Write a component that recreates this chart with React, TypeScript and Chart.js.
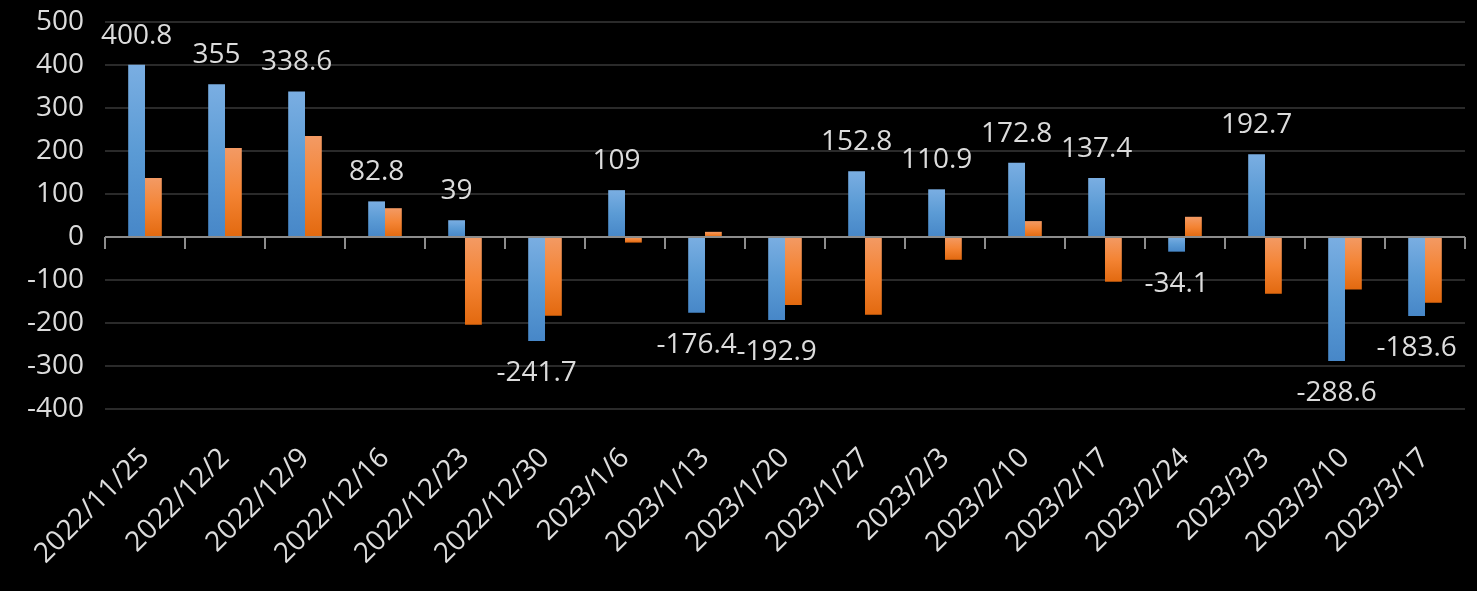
import React, { useEffect, useRef } from "react";
import { Chart, registerables } from "chart.js";

Chart.register(...registerables);

const categories = [
  "2022/11/25", "2022/12/2", "2022/12/9", "2022/12/16", "2022/12/23", "2022/12/30",
  "2023/1/6", "2023/1/13", "2023/1/20", "2023/1/27", "2023/2/3", "2023/2/10",
  "2023/2/17", "2023/2/24", "2023/3/3", "2023/3/10", "2023/3/17",
];

const blueValues = [
  400.8, 355, 338.6, 82.8, 39, -241.7, 109, -176.4, -192.9, 152.8, 110.9, 172.8,
  137.4, -34.1, 192.7, -288.6, -183.6,
];

const orangeValues = [
  137, 207, 235, 67, -204, -183, -13, 12, -158, -181, -53, 37, -104, 47, -132, -122, -153,
];

const yMin = -400;
const yMax = 500;
const yStep = 100;

const FONT_FAMILY = "'Open Sans', 'Noto Sans', 'DejaVu Sans', sans-serif";
const TEXT_COLOR = "#dcdcdc";
const BLUE_STOPS = ["#7aaee2", "#5b9bd5", "#4787c8"];
const ORANGE_STOPS = ["#f39a64", "#f48434", "#e2690f"];

function barGradient(stops: string[]) {
  return (ctx: any) => {
    const chart = ctx.chart;
    const yScale = chart.scales && chart.scales.y;
    if (!chart.chartArea || !yScale || ctx.type !== "data") return stops[1];
    const v = ctx.raw as number;
    const p0 = yScale.getPixelForValue(0);
    const p1 = yScale.getPixelForValue(v);
    const top = Math.min(p0, p1);
    const bottom = Math.max(p0, p1);
    if (bottom - top < 1) return stops[1];
    const g = chart.ctx.createLinearGradient(0, top, 0, bottom);
    g.addColorStop(0, stops[0]);
    g.addColorStop(0.5, stops[1]);
    g.addColorStop(1, stops[2]);
    return g;
  };
}

const overlayPlugin = {
  id: "overlayPlugin",
  afterDatasetsDraw(chart: any) {
    const { ctx, chartArea, scales } = chart;
    const xs = scales.x;
    const ys = scales.y;
    const y0 = ys.getPixelForValue(0);
    const step = xs.getPixelForValue(1) - xs.getPixelForValue(0);
    const first = xs.getPixelForValue(0) - step / 2;
    ctx.save();
    ctx.strokeStyle = "#8c8c8c";
    ctx.lineWidth = 2;
    ctx.beginPath();
    ctx.moveTo(chartArea.left, y0);
    ctx.lineTo(chartArea.right, y0);
    for (let i = 0; i <= categories.length; i++) {
      const px = Math.round(first + i * step);
      ctx.moveTo(px, y0);
      ctx.lineTo(px, y0 + 12);
    }
    ctx.stroke();

    // data labels for the blue series
    const meta = chart.getDatasetMeta(0);
    ctx.font = `28px ${FONT_FAMILY}`;
    ctx.fillStyle = TEXT_COLOR;
    ctx.textAlign = "center";
    ctx.textBaseline = "alphabetic";
    meta.data.forEach((el: any, i: number) => {
      const v = blueValues[i];
      const text = String(v);
      const w = ctx.measureText(text).width;
      let cx = el.x;
      if (cx + w / 2 > chartArea.right) cx = chartArea.right - w / 2;
      const ty = v >= 0 ? el.y - 21 : el.y + 40;
      ctx.fillText(text, cx, ty);
    });
    ctx.restore();
  },
};

export default function App() {
  const canvasRef = useRef<HTMLCanvasElement | null>(null);

  useEffect(() => {
    document.body.style.margin = "0";
    document.body.style.background = "#000";
    const canvas = canvasRef.current;
    if (!canvas) return;
    const chart = new Chart(canvas, {
      type: "bar",
      data: {
        labels: categories,
        datasets: [
          {
            label: "A",
            data: blueValues,
            backgroundColor: barGradient(BLUE_STOPS) as any,
            borderWidth: 0,
            categoryPercentage: 0.42,
            barPercentage: 1,
          },
          {
            label: "B",
            data: orangeValues,
            backgroundColor: barGradient(ORANGE_STOPS) as any,
            borderWidth: 0,
            categoryPercentage: 0.42,
            barPercentage: 1,
          },
        ],
      },
      options: {
        animation: false,
        responsive: true,
        maintainAspectRatio: false,
        devicePixelRatio: 1,
        layout: { autoPadding: false, padding: { left: 0, right: 12, top: 22, bottom: 0 } },
        plugins: {
          legend: { display: false },
          title: { display: false },
          tooltip: { enabled: false },
        },
        scales: {
          x: {
            grid: { display: false },
            border: { display: false },
            ticks: {
              autoSkip: false,
              minRotation: 45,
              maxRotation: 45,
              color: TEXT_COLOR,
              padding: 36,
              font: { family: FONT_FAMILY, size: 28, lineHeight: 0.05 },
            },
            afterFit(scale: any) {
              scale.height = 182;
              scale.paddingLeft = 0;
              scale.paddingRight = 0;
            },
          },
          y: {
            min: yMin,
            max: yMax,
            border: { display: false },
            grid: {
              color: (c: any) => (c.tick && c.tick.value === 0 ? "#8c8c8c" : "#2a2a2a"),
              lineWidth: 2,
              drawTicks: false,
            },
            ticks: {
              stepSize: yStep,
              color: TEXT_COLOR,
              padding: 21,
              font: { family: FONT_FAMILY, size: 28 },
            },
            afterFit(scale: any) {
              scale.width = 105;
              scale.paddingTop = 0;
              scale.paddingBottom = 0;
            },
          },
        },
      },
      plugins: [overlayPlugin],
    });
    return () => chart.destroy();
  }, []);

  return (
    <div style={{ position: "fixed", left: 0, top: 0, width: 1477, height: 591, background: "#000" }}>
      <canvas ref={canvasRef} />
    </div>
  );
}
